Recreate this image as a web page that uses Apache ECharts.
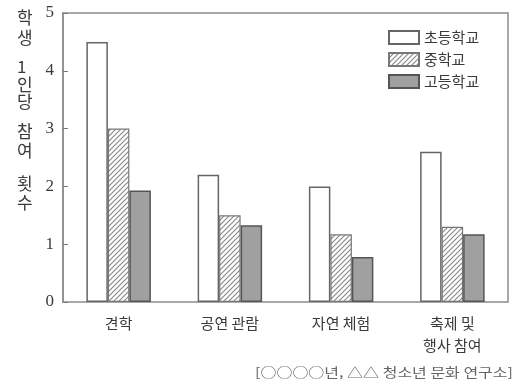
<!DOCTYPE html>
<html>
<head>
<meta charset="utf-8">
<script src="https://cdn.jsdelivr.net/npm/echarts@6/dist/echarts.min.js"></script>
<style>
  html, body { margin: 0; padding: 0; background: #fff; }
  #chart { width: 515px; height: 384px; }
</style>
</head>
<body>
<div id="chart"></div>
<script>
// 데이터
var categories = ['견학', '공연 관람', '자연 체험', '축제 및\n행사 참여'];
var seriesNames = ['초등학교', '중학교', '고등학교'];
var elementary = [4.5, 2.2, 2.0, 2.6];
var middle = [3.0, 1.5, 1.17, 1.3];
var high = [1.93, 1.33, 0.78, 1.17];
var yTicks = [0, 1, 2, 3, 4, 5];

// 빗금 패턴
function hatch() {
  var c = document.createElement('canvas');
  c.width = 5; c.height = 5;
  var ctx = c.getContext('2d');
  ctx.fillStyle = '#fff';
  ctx.fillRect(0, 0, 5, 5);
  ctx.strokeStyle = '#8a8a8a';
  ctx.lineWidth = 1.2;
  ctx.beginPath();
  ctx.moveTo(0, 5); ctx.lineTo(5, 0);
  ctx.moveTo(-1, 1); ctx.lineTo(1, -1);
  ctx.moveTo(4, 6); ctx.lineTo(6, 4);
  ctx.stroke();
  return c;
}

var myChart = echarts.init(document.getElementById('chart'));
var txt = '#3a3a3a';
var kr = 'Noto Sans CJK KR';
var option = {
  animation: false,
  grid: {
    left: 63, right: 7, top: 13, bottom: 82,
    show: true, borderColor: '#8c8c8c', borderWidth: 1.5
  },
  legend: {
    orient: 'vertical',
    left: 383, top: 25,
    itemWidth: 30, itemHeight: 13, itemGap: 7,
    icon: 'rect',
    textStyle: { color: txt, fontSize: 15, fontFamily: kr },
    data: seriesNames
  },
  xAxis: {
    type: 'category',
    data: categories,
    axisLine: { show: false },
    axisTick: { show: false },
    axisLabel: { margin: 10, color: txt, fontSize: 15, lineHeight: 22, fontFamily: kr }
  },
  yAxis: {
    type: 'value',
    min: yTicks[0], max: yTicks[yTicks.length - 1], interval: 1,
    axisLine: { show: true, lineStyle: { color: '#8c8c8c', width: 1.5 } },
    axisTick: { show: true, inside: true, length: 5, lineStyle: { color: '#777' } },
    splitLine: { show: false },
    axisLabel: { margin: 9, color: txt, fontSize: 17, fontFamily: 'Liberation Serif' }
  },
  graphic: [
    { type: 'text', left: 17, top: 8, style: { text: '학\n생', fontSize: 17, lineHeight: 20, fill: txt, fontFamily: kr } },
    { type: 'text', left: 17, top: 58, style: { text: '1\n인\n당', fontSize: 17, lineHeight: 17.5, fill: txt, fontFamily: kr, align: 'center' } },
    { type: 'text', left: 17, top: 122, style: { text: '참\n여', fontSize: 17, lineHeight: 19, fill: txt, fontFamily: kr } },
    { type: 'text', left: 17, top: 174, style: { text: '횟\n수', fontSize: 17, lineHeight: 19, fill: txt, fontFamily: kr } },
    { type: 'text', x: 255, y: 366, scaleX: 1.23, style: { text: '[○○○○년, △△ 청소년 문화 연구소]', fontSize: 13, fill: '#666', fontFamily: kr } }
  ],
  series: [
    {
      name: seriesNames[0], type: 'bar', data: elementary,
      barWidth: 21.5, barGap: '0%',
      itemStyle: { color: '#fff', borderColor: '#666', borderWidth: 1.5 }
    },
    {
      name: seriesNames[1], type: 'bar', data: middle,
      barWidth: 21.5, barGap: '0%',
      itemStyle: { color: { image: hatch(), repeat: 'repeat' }, borderColor: '#777', borderWidth: 1.2 }
    },
    {
      name: seriesNames[2], type: 'bar', data: high,
      barWidth: 21.5, barGap: '0%',
      itemStyle: { color: '#a0a0a0', borderColor: '#555', borderWidth: 1.5 }
    }
  ]
};
myChart.setOption(option);
window.addEventListener('resize', () => { myChart.resize() });
</script>
</body>
</html>
